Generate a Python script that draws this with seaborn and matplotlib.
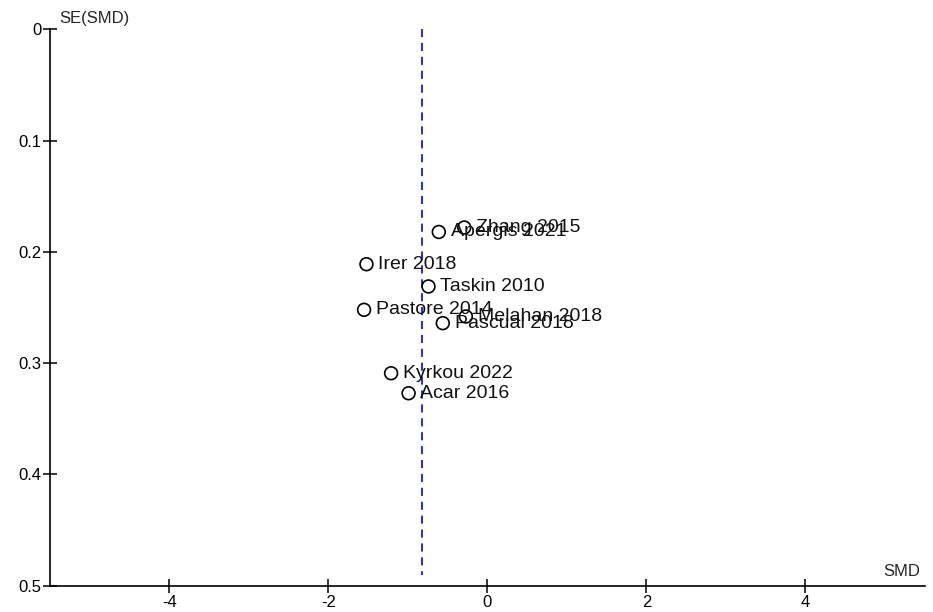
import matplotlib
matplotlib.use("Agg")
import matplotlib.pyplot as plt
import seaborn as sns
import pandas as pd

studies = ["Zhang 2015", "Apergis 2021", "Irer 2018", "Taskin 2010", "Pastore 2014",
           "Pascual 2018", "Melahan 2018", "Kyrkou 2022", "Acar 2016"]
smd = [-0.29, -0.61, -1.52, -0.74, -1.55, -0.56, -0.27, -1.21, -0.99]
se = [0.178, 0.182, 0.211, 0.231, 0.252, 0.264, 0.258, 0.309, 0.327]
pooled_smd = -0.825
x_ticks = [-4, -2, 0, 2, 4]
y_ticks = [0, 0.1, 0.2, 0.3, 0.4, 0.5]
y_tick_labels = ["0", "0.1", "0.2", "0.3", "0.4", "0.5"]

df = pd.DataFrame({"study": studies, "SMD": smd, "SE": se})

sns.set_style("white")
plt.rcParams["font.family"] = ["Liberation Sans", "DejaVu Sans"]

fig = plt.figure(figsize=(9.33, 6.12), dpi=100)
ax = fig.add_axes([0.0536, 0.0430, 0.9374, 0.9088])

ax.plot([pooled_smd, pooled_smd], [0, 0.49], color="#1a1ad0", lw=1.3,
        ls=(0, (4.5, 3.2)), zorder=1)

sns.scatterplot(data=df, x="SMD", y="SE", ax=ax, s=85, marker="o",
                facecolor="none", edgecolor="black", linewidth=1.2, zorder=3)

for name, x, y in zip(studies, smd, se):
    ax.annotate(name, (x, y), xytext=(8.5, 0), textcoords="offset points",
                ha="left", va="center", fontsize=14, color="#111111")

ax.set_xlim(-5.5, 5.5)
ax.set_ylim(0.5, 0)
ax.set_xticks(x_ticks)
ax.set_xticklabels([str(t) for t in x_ticks])
ax.set_yticks(y_ticks)
ax.set_yticklabels(y_tick_labels)
ax.tick_params(axis="both", direction="inout", length=10, width=1.1,
               labelsize=12, colors="black", pad=2, bottom=True, left=True)
ax.tick_params(axis="y", pad=1)

for side in ["top", "right"]:
    ax.spines[side].set_visible(False)
for side in ["left", "bottom"]:
    ax.spines[side].set_color("black")
    ax.spines[side].set_linewidth(1.2)

ax.set_xlabel("")
ax.set_ylabel("")
fig.text(59 / 933, 1 - 18 / 612, "SE(SMD)", ha="left", va="center", fontsize=12)
fig.text(920 / 933, 1 - 572 / 612, "SMD", ha="right", va="center", fontsize=12)

fig.savefig("out.png", dpi=100)
